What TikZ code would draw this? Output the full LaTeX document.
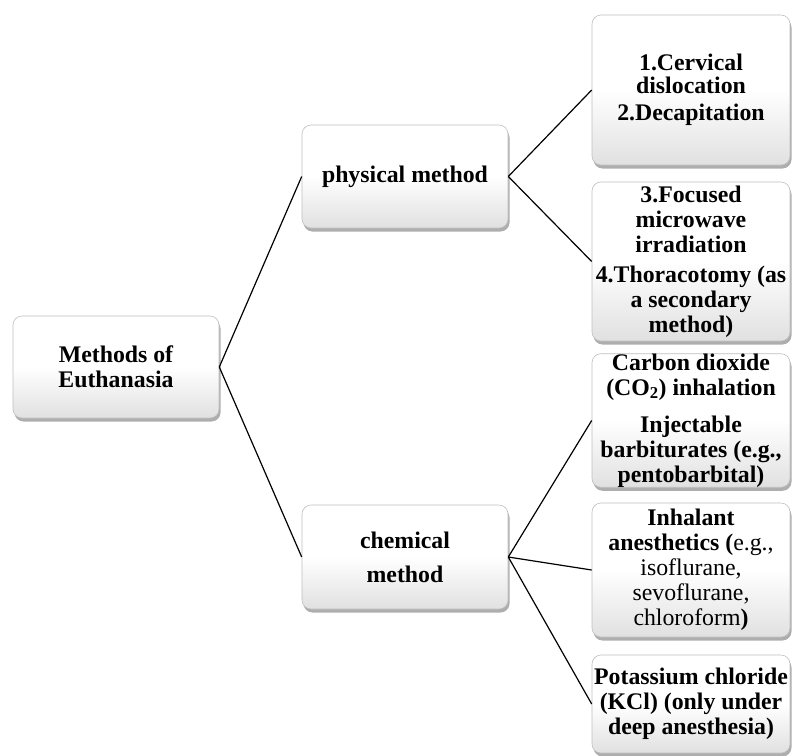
\documentclass[tikz,border=0pt]{standalone}
\usepackage{fontspec}
\setmainfont{Liberation Serif}
\usetikzlibrary{shadows}
\tikzset{
  box/.style={draw=black!25, line width=0.6pt, rounded corners=9pt,
    top color=white, bottom color=black!12, middle color=white,
    drop shadow={shadow xshift=1.5pt, shadow yshift=-3.5pt, opacity=0.45, fill=black!70},
    inner sep=0pt, align=center, anchor=center},
  midbox/.style={box, minimum width=206pt},
  leafbox/.style={box, minimum width=198pt},
  txt/.style={font=\fontsize{23.8}{25}\selectfont\bfseries},
  link/.style={line width=1.2pt, black}
}
\begin{document}
\begin{tikzpicture}[x=1pt,y=-1pt]
\useasboundingbox (0,0) rectangle (792,755);
\node[midbox, minimum height=102pt, txt] (root) at (116,367) {Methods of\\Euthanasia};
\node[midbox, minimum height=103pt, txt] (phys) at (405,176.5) {physical method};
\node[midbox, minimum height=104pt, txt] (chem) at (405,557) {chemical\\[9pt]method};
\node[leafbox, minimum height=150pt, font=\fontsize{23.8}{23}\selectfont\bfseries] (l1) at (691,90) {1.Cervical\\dislocation\\[4pt]2.Decapitation};
\node[leafbox, minimum height=159pt, txt] (l2) at (691,261.5) {3.Focused\\microwave\\irradiation\\[5pt]4.Thoracotomy (as\\a secondary\\method)};
\node[leafbox, minimum height=131pt, txt] (l3) at (691,420.5) {Carbon dioxide\\(CO\textsubscript{2}) inhalation\\[12pt]Injectable\\barbiturates (e.g.,\\pentobarbital)};
\node[leafbox, minimum height=134pt, font=\fontsize{23.8}{25}\selectfont] (l4) at (691,570) {\textbf{Inhalant}\\\textbf{anesthetics (}e.g.,\\isoflurane,\\sevoflurane,\\chloroform\textbf{)}};
\node[leafbox, minimum height=98pt, txt] (l5) at (691,704) {Potassium chloride\\(KCl) (only under\\deep anesthesia)};
\draw[link] (root.east) -- (phys.west);
\draw[link] (root.east) -- (chem.west);
\draw[link] (phys.east) -- (l1.west);
\draw[link] (phys.east) -- (l2.west);
\draw[link] (chem.east) -- (l3.west);
\draw[link] (chem.east) -- (l4.west);
\draw[link] (chem.east) -- (l5.west);
\end{tikzpicture}
\end{document}
